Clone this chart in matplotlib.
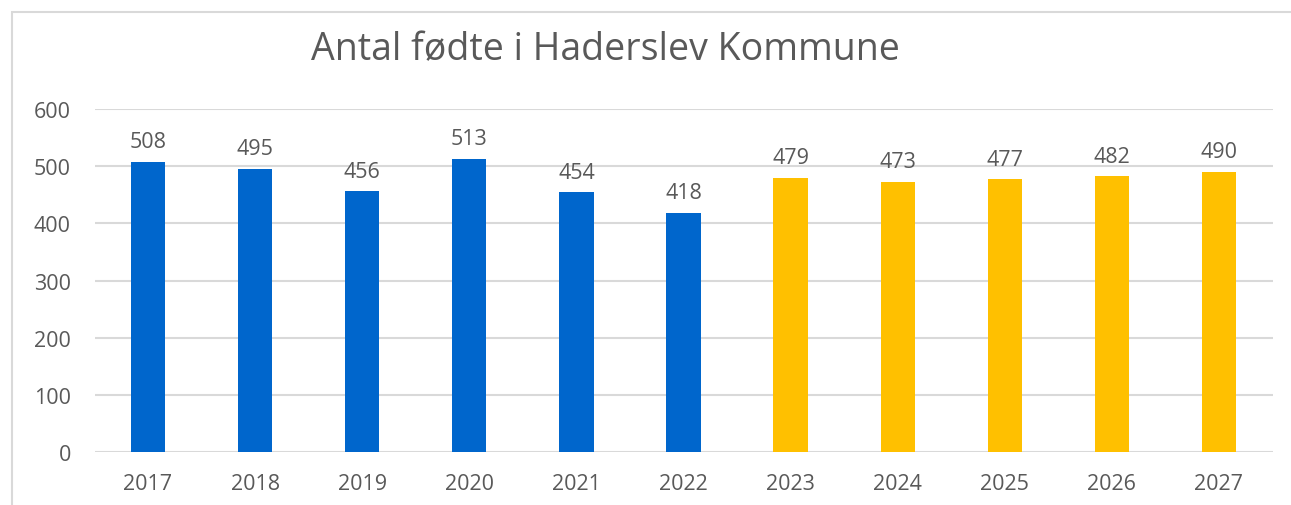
import matplotlib.pyplot as plt
from matplotlib.patches import Rectangle

years = ['2017', '2018', '2019', '2020', '2021', '2022', '2023', '2024', '2025', '2026', '2027']
births = [508, 495, 456, 513, 454, 418, 479, 473, 477, 482, 490]
colors = ['#0066CC'] * 6 + ['#FFC000'] * 5

plt.rcParams['font.family'] = ['Open Sans', 'DejaVu Sans']
grey = '#595959'

fig = plt.figure(figsize=(12.91, 5.06), dpi=100)
ax = fig.add_axes([94.5 / 1291, 1 - 453 / 506, (1272.5 - 94.5) / 1291, (453 - 110) / 506])

# ramme om diagrammet
fig.patches.append(Rectangle((12 / 1291, -0.1), 1.2, 1 - 13 / 506 + 0.1, transform=fig.transFigure,
                             fill=False, edgecolor='#D9D9D9', linewidth=1.5))

x = range(len(years))
ax.bar(x, births, width=0.32, color=colors, zorder=2)
for i, v in zip(x, births):
    ax.annotate(str(v), (i, v), xytext=(0, 7), textcoords='offset points',
                ha='center', va='bottom', fontsize=15.5, color=grey)

ax.set_ylim(0, 600)
ax.set_xlim(-0.5, len(years) - 0.5)
ax.set_yticks(range(0, 601, 100))
ax.set_xticks(list(x))
ax.set_xticklabels(years)
ax.yaxis.grid(True, color='#D9D9D9', linewidth=1.5, zorder=0)
ax.set_axisbelow(True)
for s in ax.spines.values():
    s.set_visible(False)
ax.tick_params(length=0, labelsize=15.5, colors=grey)
ax.tick_params(axis='y', pad=17)
ax.tick_params(axis='x', pad=15)

fig.text(605 / 1291, 1 - 50 / 506, 'Antal fødte i Haderslev Kommune', ha='center', va='center',
         fontsize=27, color=grey)

fig.savefig('out.png', dpi=100)
